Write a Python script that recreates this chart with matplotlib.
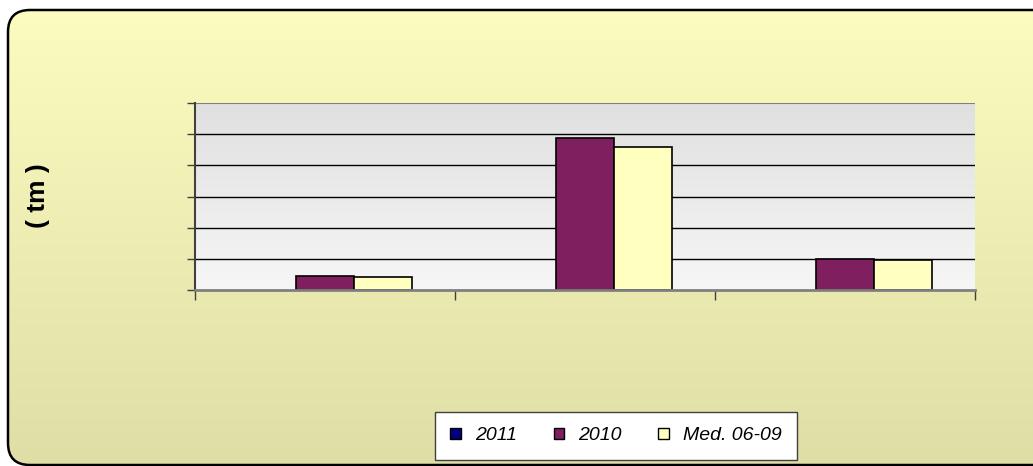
import numpy as np
import matplotlib.pyplot as plt
from matplotlib.patches import FancyBboxPatch, Patch
from matplotlib.colors import LinearSegmentedColormap

plt.rcParams["font.family"] = ["Liberation Sans", "DejaVu Sans"]

# data (no tick labels in the original)
categories = ["A", "B", "C"]
series_names = ["2011", "2010", "Med. 06-09"]
v2011 = [0, 0, 0]
v2010 = [0.46, 4.88, 0.99]
vmed = [0.41, 4.59, 0.95]
colors = ["#000080", "#7f1f5f", "#ffffc0"]

W, H = 1033, 466
fig = plt.figure(figsize=(W / 100, H / 100), dpi=100)
fig.patch.set_facecolor("white")

# rounded yellow frame with vertical gradient
bg = fig.add_axes([0, 0, 1, 1], zorder=0)
bg.set_xlim(0, W)
bg.set_ylim(0, H)
bg.axis("off")
frame = FancyBboxPatch((8, 1), W + 20, H - 11, boxstyle="round,pad=0,rounding_size=22",
                       facecolor="none", edgecolor="black", lw=1.8, zorder=3)
bg.add_patch(frame)
ycmap = LinearSegmentedColormap.from_list("y", ["#dfdea6", "#fcfcc0"])
grad = np.linspace(0, 1, 256).reshape(-1, 1)
im = bg.imshow(grad, cmap=ycmap, extent=[8, W + 28, 1, H - 10], origin="lower",
               aspect="auto", zorder=1)
im.set_clip_path(frame)

# plot area
ax = fig.add_axes([195 / W, 1 - 290 / H, 780 / W, 187 / H], zorder=2)
ax.set_xlim(-0.5, 2.5)
ax.set_ylim(0, 6)
gcmap = LinearSegmentedColormap.from_list("g", ["#f6f6f6", "#e0e0e0"])
ax.imshow(grad, cmap=gcmap, extent=[-0.5, 2.5, 0, 6], origin="lower", aspect="auto", zorder=0)
ax.set_facecolor("none")

for yv in range(1, 6):
    ax.axhline(yv, color="black", lw=1, zorder=1)
ax.axhline(6, color="#808080", lw=1.5, zorder=1)

x = np.arange(len(categories))
w = 0.223
for i, (vals, c) in enumerate(zip([v2011, v2010, vmed], colors)):
    lws = [1.2 if v > 0 else 0 for v in vals]
    ax.bar(x + (i - 1) * w, vals, width=w, color=c, edgecolor="black", lw=lws, zorder=3)

for s in ["top", "right"]:
    ax.spines[s].set_visible(False)
ax.spines["left"].set_color("#404040")
ax.spines["left"].set_linewidth(1.5)
ax.spines["bottom"].set_color("#808080")
ax.spines["bottom"].set_linewidth(2)
ax.spines["bottom"].set_zorder(4)
ax.set_yticks(range(0, 7))
ax.set_yticklabels([])
ax.set_xticks([-0.5, 0.5, 1.5, 2.5])
ax.set_xticklabels([])
ax.tick_params(axis="y", length=6, width=1, color="#404040", direction="out")
ax.tick_params(axis="x", length=7, width=1, color="#404040", direction="out")

fig.text(38 / W, 1 - 196 / H, "( tm )", rotation=90, fontsize=19, fontweight="bold",
         ha="center", va="center")

handles = [Patch(facecolor=c, edgecolor="black", lw=1) for c in colors]
leg = fig.legend(handles, series_names, loc="center", bbox_to_anchor=(616 / W, 1 - 436 / H),
                 ncol=3, frameon=True, fancybox=False, framealpha=1,
                 prop={"style": "italic", "size": 14}, handlelength=0.55, handleheight=0.55,
                 handletextpad=0.7, columnspacing=1.9, borderpad=0.8)
leg.get_frame().set_edgecolor("#404040")
leg.get_frame().set_facecolor("white")
leg.get_frame().set_linewidth(1)
leg.set_zorder(5)

fig.savefig("out.png", dpi=100)
